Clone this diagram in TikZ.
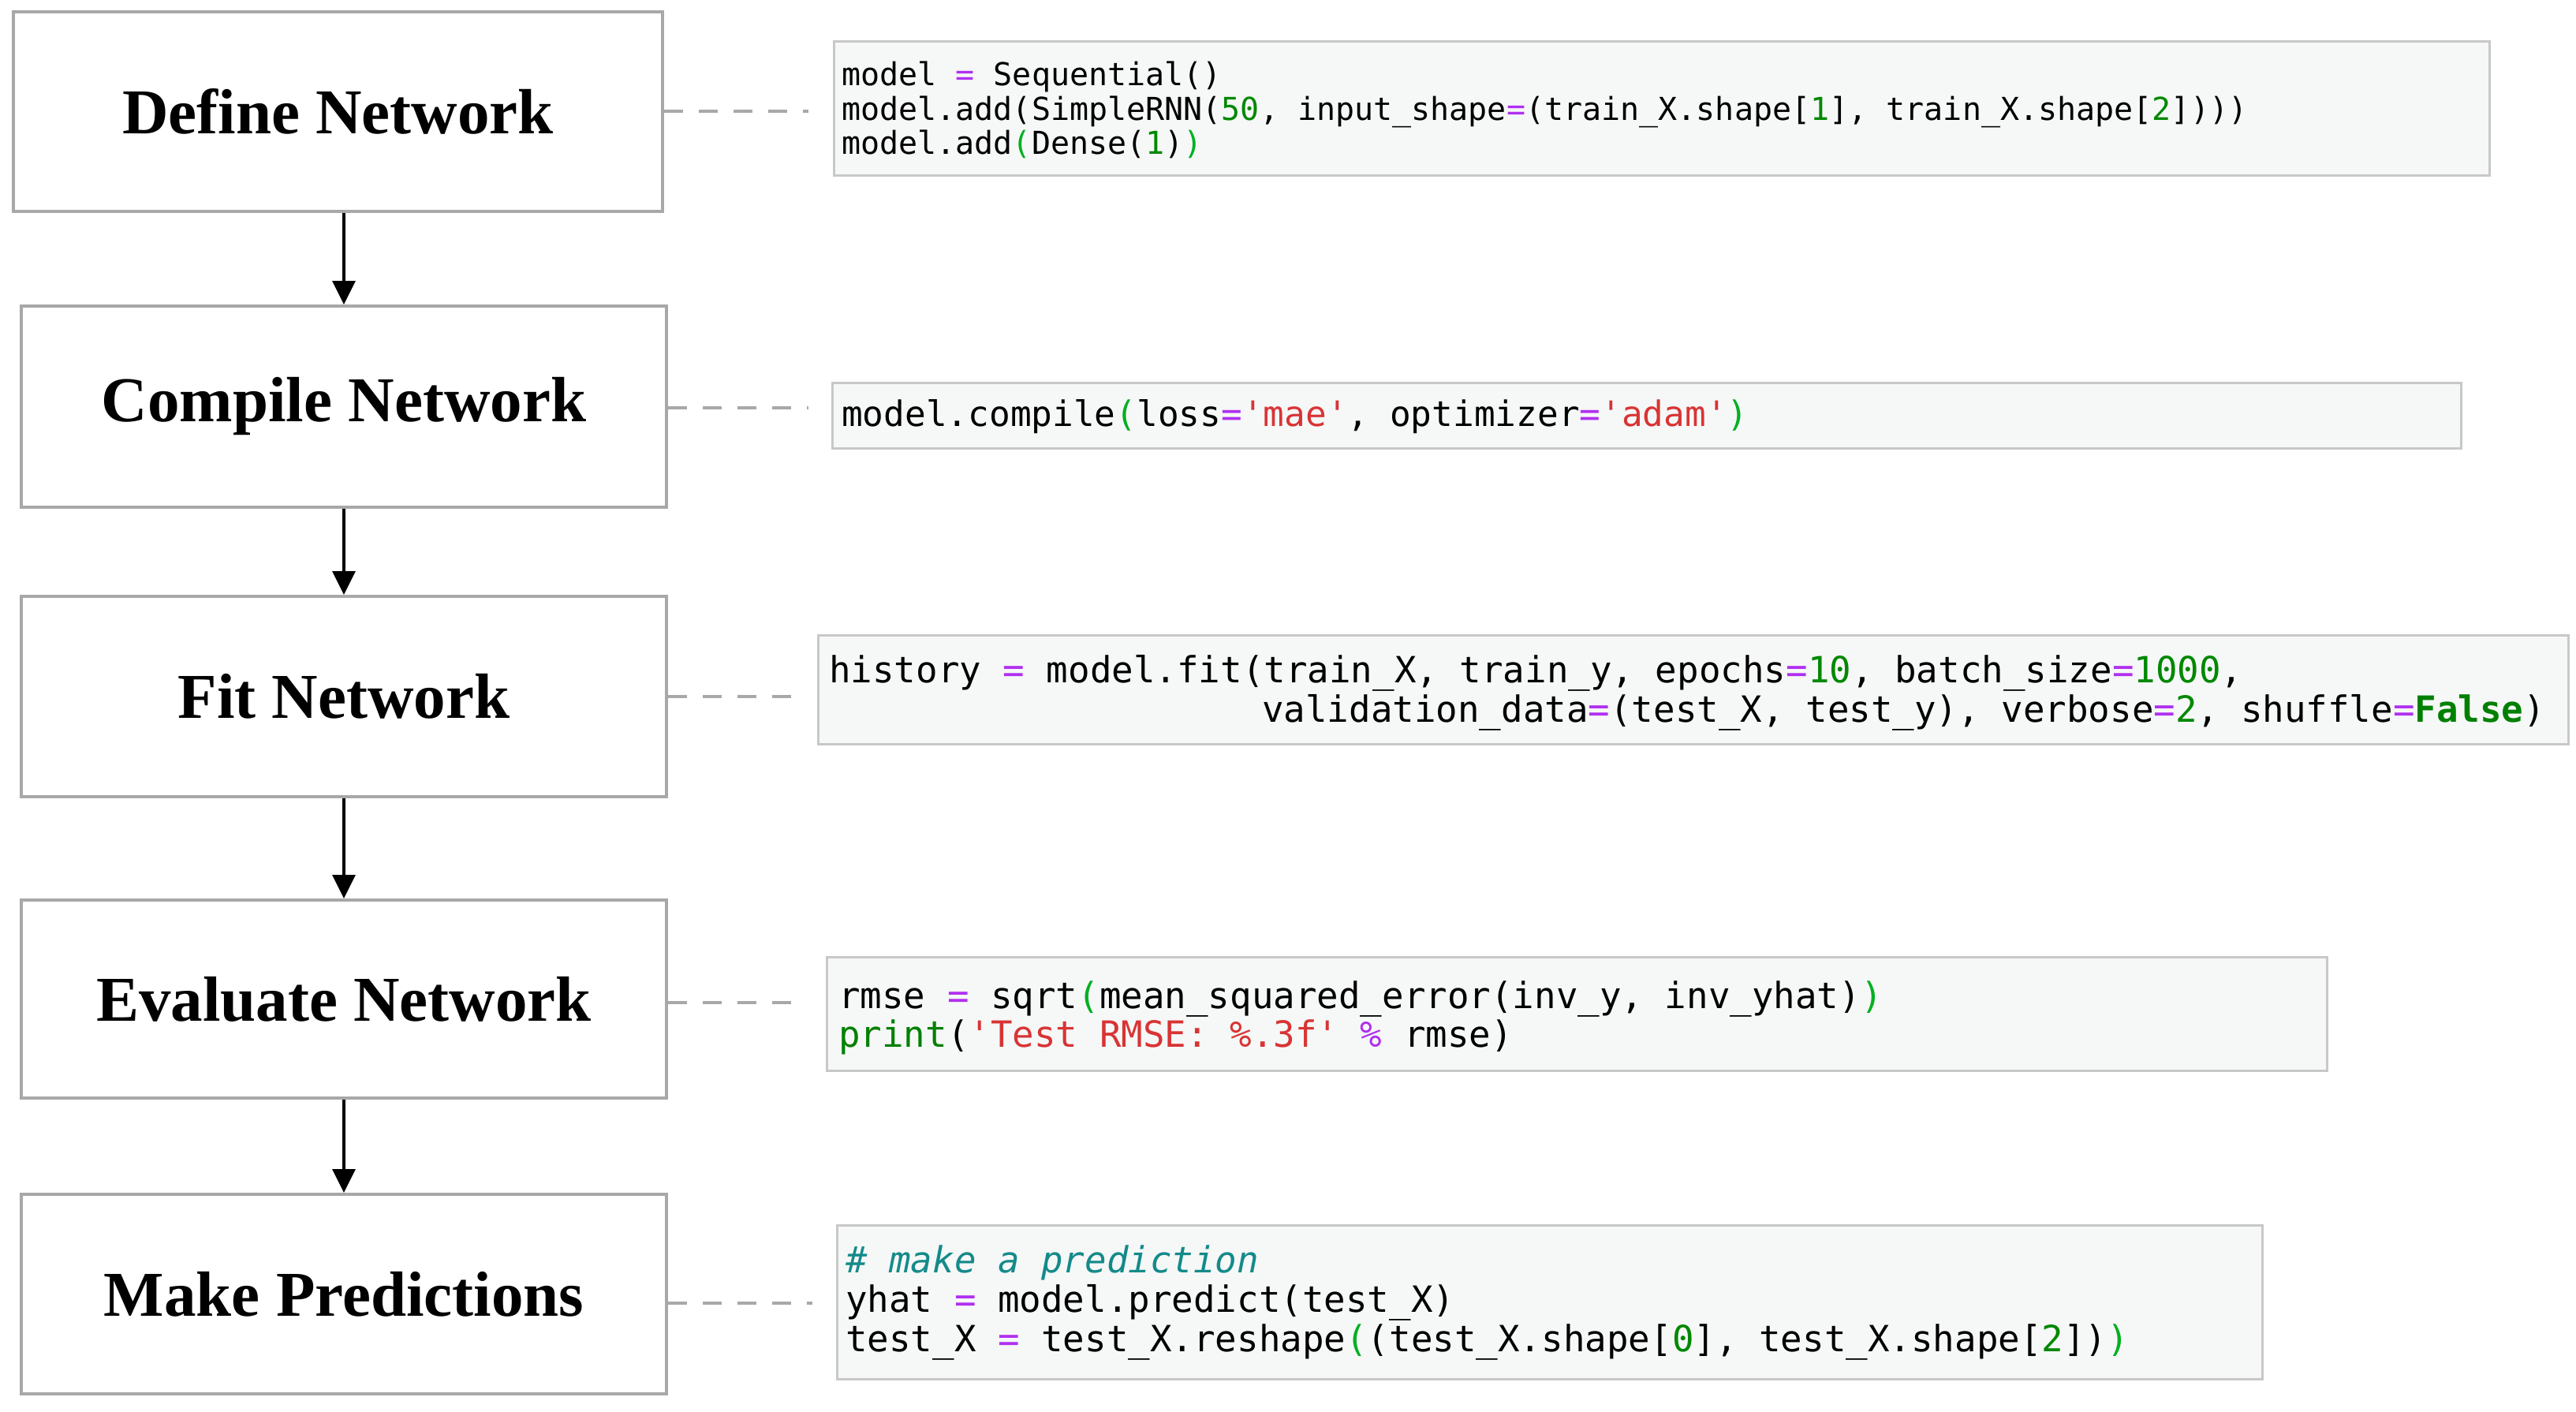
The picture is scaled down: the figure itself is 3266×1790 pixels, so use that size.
\documentclass[tikz,border=0pt]{standalone}
\usepackage{fontspec}
\setmainfont{Liberation Serif}
\newfontfamily\codefont{DejaVu Sans Mono}
\usetikzlibrary{arrows.meta}
\definecolor{opc}{HTML}{B030F0}
\definecolor{numc}{HTML}{008800}
\definecolor{mbc}{HTML}{00B020}
\definecolor{strc}{HTML}{D83434}
\definecolor{comc}{HTML}{148A8A}
\definecolor{kwc}{HTML}{008000}
\definecolor{boxc}{HTML}{A8A8A8}
\definecolor{codebg}{HTML}{F6F7F7}
\definecolor{codeborder}{HTML}{C8C8C8}
\newcommand\cop[1]{\textcolor{opc}{#1}}
\newcommand\cnum[1]{\textcolor{numc}{#1}}
\newcommand\cmb[1]{\textcolor{mbc}{#1}}
\newcommand\cstr[1]{\textcolor{strc}{#1}}
\newcommand\ckw[1]{\textcolor{kwc}{\bfseries #1}}
\newcommand\cbi[1]{\textcolor{kwc}{#1}}
\newcommand\ccom[1]{\textcolor{comc}{\itshape #1}}
\newcommand\sq{\textquotesingle}
\tikzset{
  stepbox/.style={draw=boxc, line width=4pt, fill=white, inner sep=0pt,
    font=\bfseries\fontsize{81pt}{90pt}\selectfont},
  codebox/.style={draw=codeborder, line width=3pt, fill=codebg, inner sep=0pt},
  codeA/.style={anchor=base west, inner sep=0pt, font=\codefont\fontsize{40pt}{44pt}\selectfont},
  codeB/.style={anchor=base west, inner sep=0pt, font=\codefont\fontsize{45.8pt}{50pt}\selectfont},
  codeC/.style={anchor=base west, inner sep=0pt, font=\codefont\fontsize{44.4pt}{50pt}\selectfont},
  flowarrow/.style={line width=3.5pt, black, -{Triangle[length=30pt,width=29pt]}},
  link/.style={draw=boxc, line width=4pt, dash pattern=on 24pt off 20pt}
}
\begin{document}
\begin{tikzpicture}[x=1pt,y=-1pt]
\useasboundingbox (0,0) rectangle (3266,1790);
\fill[white] (0,0) rectangle (3266,1790);

% step boxes
\node[stepbox, minimum width=823pt, minimum height=253pt] (b1) at (428.5,141.5) {\raisebox{-4pt}{Define Network}};
\node[stepbox, minimum width=818pt, minimum height=255pt] (b2) at (436,515.5) {\raisebox{-4pt}{Compile Network}};
\node[stepbox, minimum width=818pt, minimum height=254pt] (b3) at (436,883) {Fit Network};
\node[stepbox, minimum width=818pt, minimum height=251pt] (b4) at (436,1266.5) {Evaluate Network};
\node[stepbox, minimum width=818pt, minimum height=253pt] (b5) at (436,1640.5) {Make Predictions};

% arrows
\draw[flowarrow] (b1.south -| b2.north) -- (b2.north);
\draw[flowarrow] (b2.south) -- (b3.north);
\draw[flowarrow] (b3.south) -- (b4.north);
\draw[flowarrow] (b4.south) -- (b5.north);

% code boxes
\node[codebox, minimum width=2099pt, minimum height=170pt] (c1) at (2106.5,138) {};
\node[codebox, minimum width=2065pt, minimum height=83pt] (c2) at (2087.5,526.5) {};
\node[codebox, minimum width=2219pt, minimum height=138pt] (c3) at (2146.5,874) {};
\node[codebox, minimum width=1902pt, minimum height=144pt] (c4) at (1999,1285) {};
\node[codebox, minimum width=1807pt, minimum height=195pt] (c5) at (1964.5,1650.5) {};

% dashed links
\coordinate (d1) at (1025,141.5);
\coordinate (d2) at (1025,517);
\coordinate (d3) at (1008,883);
\coordinate (d4) at (1018,1271);
\coordinate (d5) at (1030,1652);
\draw[link] (b1.east) -- (d1);
\draw[link] (b2.east |- d2) -- (d2);
\draw[link] (b3.east) -- (d3);
\draw[link] (b4.east |- d4) -- (d4);
\draw[link] (b5.east |- d5) -- (d5);

% code text
\node[codeA] (t1a) at (1067,109) {model \cop{=} Sequential()};
\node[codeA] (t1b) at (1067,153) {model.add(SimpleRNN(\cnum{50}, input\_shape\cop{=}(train\_X.shape[\cnum{1}], train\_X.shape[\cnum{2}])))};
\node[codeA] (t1c) at (1067,196) {model.add\cmb{(}Dense(\cnum{1})\cmb{)}};

\node[codeC] (t2a) at (1067,540) {model.compile\cmb{(}loss\cop{=}\cstr{\sq mae\sq}, optimizer\cop{=}\cstr{\sq adam\sq}\cmb{)}};

\node[codeB] (t3a) at (1051,865) {history \cop{=} model.fit(train\_X, train\_y, epochs\cop{=}\cnum{10}, batch\_size\cop{=}\cnum{1000},};
\node[codeB] (t3b) at (1600,915) {validation\_data\cop{=}(test\_X, test\_y), verbose\cop{=}\cnum{2}, shuffle\cop{=}\ckw{False})};

\node[codeB] (t4a) at (1063,1278) {rmse \cop{=} sqrt\cmb{(}mean\_squared\_error(inv\_y, inv\_yhat)\cmb{)}};
\node[codeB] (t4b) at (1063,1327) {\cbi{print}(\cstr{\sq Test RMSE: \%.3f\sq} \cop{\%} rmse)};

\node[codeB] (t5a) at (1072,1613) {\ccom{\# make a prediction}};
\node[codeB] (t5b) at (1072,1663) {yhat \cop{=} model.predict(test\_X)};
\node[codeB] (t5c) at (1072,1713) {test\_X \cop{=} test\_X.reshape\cmb{(}(test\_X.shape[\cnum{0}], test\_X.shape[\cnum{2}])\cmb{)}};
\end{tikzpicture}
\end{document}
